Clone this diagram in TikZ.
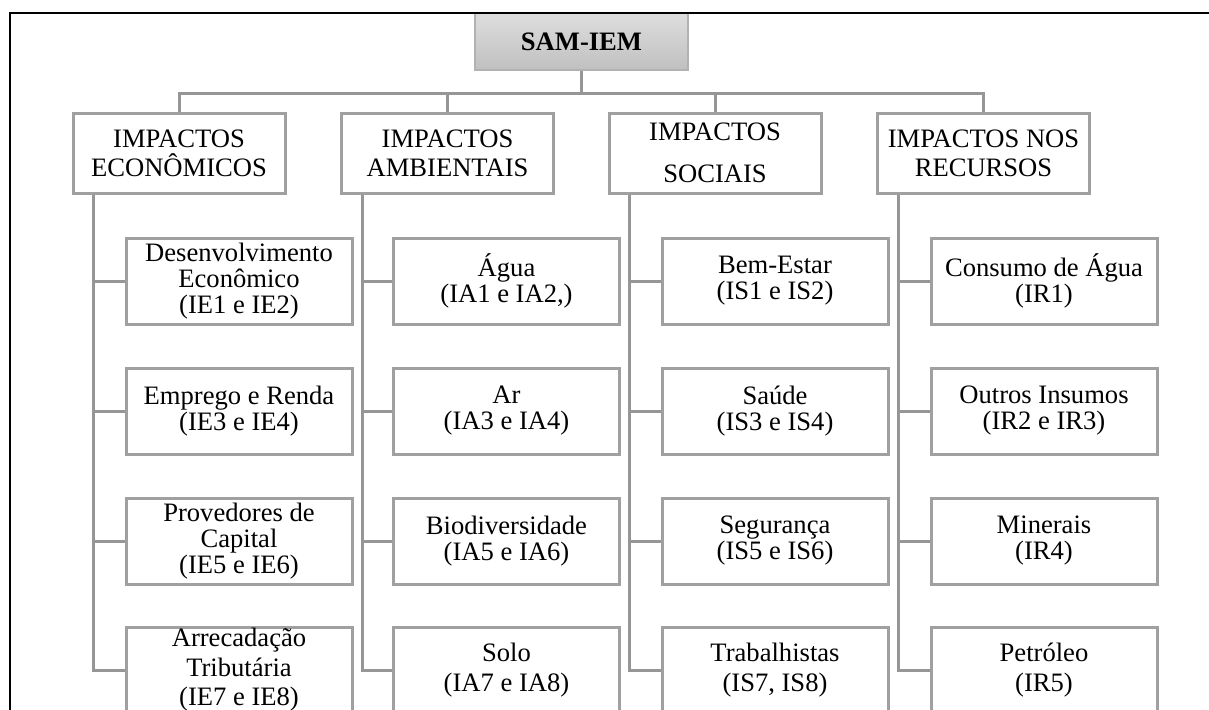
\documentclass[tikz,border=0pt]{standalone}
\usepackage{fontspec}
\setmainfont{Liberation Serif}

\tikzset{
	rootbox/.style={draw=rootborder, line width=1pt, top color=roottop, bottom color=rootbottom,
		minimum width=106.5pt, minimum height=28.5pt, inner sep=0pt,
		font=\fontsize{13.3}{14.5}\selectfont\bfseries},
	headbox/.style={draw=boxgray, line width=1.5pt, minimum width=106pt, minimum height=40pt,
		inner sep=0pt, align=center, font=\fontsize{13.3}{14.5}\selectfont},
	itembox/.style={draw=boxgray, line width=1.5pt, fill=white, minimum width=113pt, minimum height=43pt,
		inner sep=0pt, align=center, font=\fontsize{13.3}{13}\selectfont},
	itemlow/.style={itembox, font=\fontsize{13.3}{14.75}\selectfont},
	link/.style={draw=linegray, line width=1.5pt},
}

\begin{document}
\begin{tikzpicture}[x=0.5pt, y=-0.5pt]
	\definecolor{boxgray}{RGB}{160,160,160}
	\definecolor{linegray}{RGB}{150,150,150}
	\definecolor{rootborder}{RGB}{178,178,178}
	\definecolor{roottop}{RGB}{222,222,222}
	\definecolor{rootbottom}{RGB}{192,192,192}
	
	\clip (0,0) rectangle (1209,709);
	
	\node[rootbox] (root) at (581.5,41.5) {SAM-IEM};
	
	\node[headbox] (econ) at (179,153) {IMPACTOS\\ECONÔMICOS};
	\node[headbox] (amb) at (447.5,153) {IMPACTOS\\AMBIENTAIS};
	\node[headbox] (soc) at (715,153) {IMPACTOS\\[6.5pt]SOCIAIS};
	\node[headbox] (rec) at (983.5,153) {IMPACTOS NOS\\RECURSOS};
	
	% economicos
	\node[itembox] (econ1) at (239,281) {Desenvolvimento\\Econômico\\(IE1 e IE2)};
	\node[itembox] (econ2) at (239,411) {Emprego e Renda\\(IE3 e IE4)};
	\node[itembox] (econ3) at (239,541) {Provedores de\\Capital\\(IE5 e IE6)};
	\node[itemlow] (econ4) at (239,670) {Arrecadação\\Tributária\\(IE7 e IE8)};
	
	% ambientais
	\node[itembox] (amb1) at (506.5,281) {Água\\(IA1 e IA2,)};
	\node[itembox] (amb2) at (506.5,411) {Ar\\(IA3 e IA4)};
	\node[itembox] (amb3) at (506.5,541) {Biodiversidade\\(IA5 e IA6)};
	\node[itemlow] (amb4) at (506.5,670) {Solo\\(IA7 e IA8)};
	
	% sociais
	\node[itembox] (soc1) at (775,281) {Bem-Estar\\(IS1 e IS2)};
	\node[itembox] (soc2) at (775,411) {Saúde\\(IS3 e IS4)};
	\node[itembox] (soc3) at (775,541) {Segurança\\(IS5 e IS6)};
	\node[itemlow] (soc4) at (775,670) {Trabalhistas\\(IS7, IS8)};
	
	% recursos
	\node[itembox] (rec1) at (1044,281) {Consumo de Água\\(IR1)};
	\node[itembox] (rec2) at (1044,411) {Outros Insumos\\(IR2 e IR3)};
	\node[itembox] (rec3) at (1044,541) {Minerais\\(IR4)};
	\node[itemlow] (rec4) at (1044,670) {Petróleo\\(IR5)};
	
	\foreach \col in {econ,amb,soc,rec}{
		\draw[link] (root.south) -- ++(0,22) -| (\col.north);
		\coordinate (\col-trunk) at ([xshift=11pt]\col.south west);
		\draw[link] (\col-trunk) |- (\col4.west);
		\foreach \row in {1,2,3}
			\draw[link] (\col\row.west) -- (\col\row.west -| \col-trunk);
	}
	
	\draw[line width=1pt] (10,720) -- (10,13) -- (1215,13);
\end{tikzpicture}
\end{document}
